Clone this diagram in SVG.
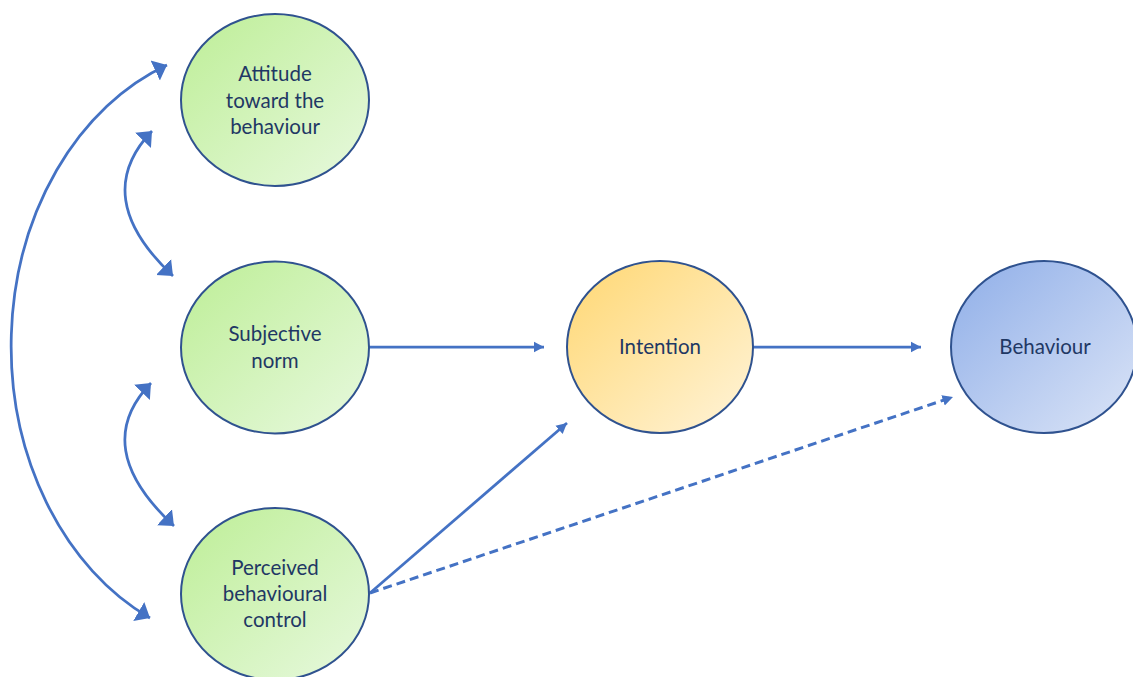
<svg xmlns="http://www.w3.org/2000/svg" width="1133" height="677" viewBox="0 0 1133 677">
  <defs>
    <linearGradient id="gGreen" x1="0" y1="0" x2="1" y2="1">
      <stop offset="0" stop-color="#BDEE96"/>
      <stop offset="1" stop-color="#E8F9DF"/>
    </linearGradient>
    <linearGradient id="gOrange" x1="0" y1="0" x2="1" y2="1">
      <stop offset="0" stop-color="#FFD772"/>
      <stop offset="1" stop-color="#FFF4DA"/>
    </linearGradient>
    <linearGradient id="gBlue" x1="0" y1="0" x2="1" y2="1">
      <stop offset="0" stop-color="#8FAEE8"/>
      <stop offset="1" stop-color="#DCE5F7"/>
    </linearGradient>
    <!-- large heads for the curved two-way links -->
    <marker id="headBig" markerUnits="userSpaceOnUse" viewBox="0 -12 14 24" refX="13" refY="0" markerWidth="14" markerHeight="24" orient="auto-start-reverse">
      <path d="M0,-11 L13,0 L0,11 Z" fill="#4472C4"/>
    </marker>
    <!-- small heads for the straight links -->
    <marker id="headSmall" markerUnits="userSpaceOnUse" viewBox="0 -6 11 12" refX="10.5" refY="0" markerWidth="11" markerHeight="12" orient="auto">
      <path d="M0,-5.5 L10.5,0 L0,5.5 Z" fill="#4472C4"/>
    </marker>
    <style>
      .node { stroke: #2F528F; stroke-width: 2; }
      .label { font-family: Lato, "Noto Sans", "Liberation Sans", sans-serif; font-size: 20.5px; fill: #1F3864; text-anchor: middle; }
      .link { fill: none; stroke: #4472C4; stroke-width: 2.75; }
      .dashed { stroke-width: 3; stroke-dasharray: 9 5; }
    </style>
  </defs>

  <g id="connectors">
    <!-- attitude <-> perceived control -->
    <path class="link" d="M167,65 A240,300 0 0 0 150,618" marker-start="url(#headBig)" marker-end="url(#headBig)"/>
    <!-- attitude <-> subjective norm -->
    <path class="link" d="M152,131 Q89,197 173,276" marker-start="url(#headBig)" marker-end="url(#headBig)"/>
    <!-- subjective norm <-> perceived control -->
    <path class="link" d="M151,383 Q89,447 174,526" marker-start="url(#headBig)" marker-end="url(#headBig)"/>
    <!-- subjective norm -> intention -->
    <path class="link" d="M369,347 L544,347" marker-end="url(#headSmall)"/>
    <!-- intention -> behaviour -->
    <path class="link" d="M753,347 L921,347" marker-end="url(#headSmall)"/>
    <!-- perceived control -> intention -->
    <path class="link" d="M370,593 L567,423" marker-end="url(#headSmall)"/>
    <!-- perceived control -> behaviour -->
    <path class="link dashed" d="M370,593 L953,397" marker-end="url(#headSmall)"/>
  </g>

  <g id="attitude">
    <ellipse class="node" cx="275" cy="100" rx="94" ry="86" fill="url(#gGreen)"/>
    <text class="label" x="275" y="80.5">Attitude</text>
    <text class="label" x="275" y="107.5">toward the</text>
    <text class="label" x="275" y="134">behaviour</text>
  </g>

  <g id="subjective-norm">
    <ellipse class="node" cx="275" cy="347.5" rx="94" ry="86" fill="url(#gGreen)"/>
    <text class="label" x="275" y="341">Subjective</text>
    <text class="label" x="275" y="368">norm</text>
  </g>

  <g id="perceived-control">
    <ellipse class="node" cx="275" cy="594" rx="94" ry="86" fill="url(#gGreen)"/>
    <text class="label" x="275" y="575">Perceived</text>
    <text class="label" x="275" y="601">behavioural</text>
    <text class="label" x="275" y="626.5">control</text>
  </g>

  <g id="intention">
    <ellipse class="node" cx="660" cy="347" rx="93" ry="86" fill="url(#gOrange)"/>
    <text class="label" x="660" y="354">Intention</text>
  </g>

  <g id="behaviour">
    <ellipse class="node" cx="1044" cy="347" rx="93" ry="86" fill="url(#gBlue)"/>
    <text class="label" x="1045" y="354">Behaviour</text>
  </g>
</svg>
